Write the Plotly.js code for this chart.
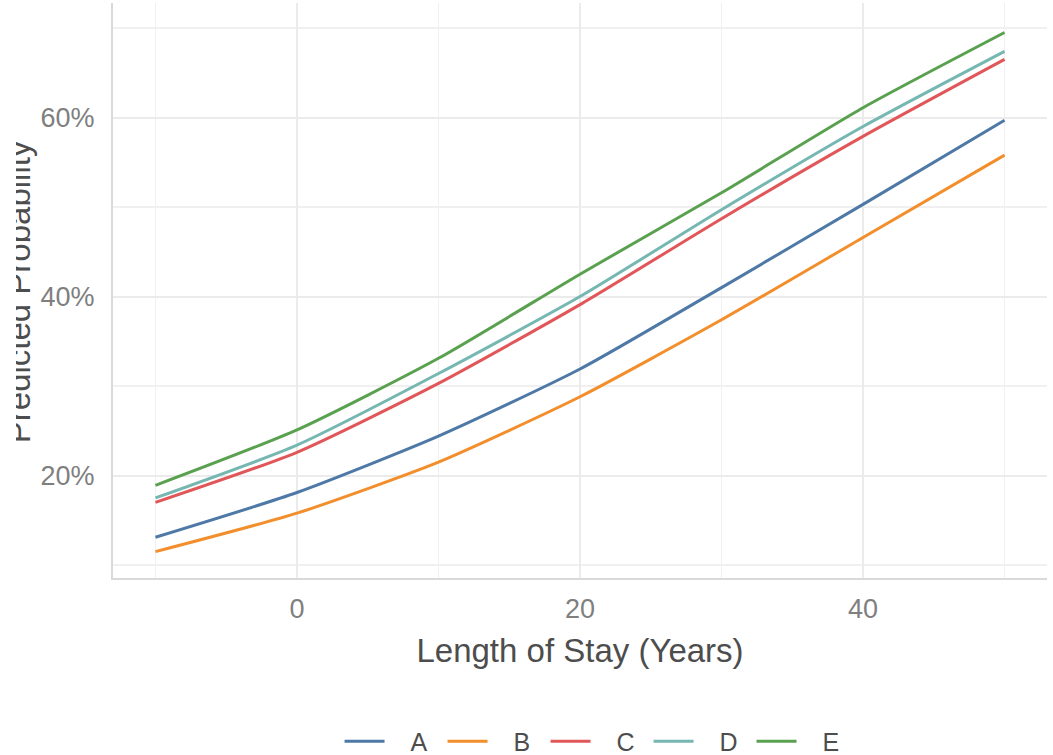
<!DOCTYPE html>
<html>
<head>
<meta charset="utf-8">
<script src="https://cdn.plot.ly/plotly-3.0.1.min.js"></script>
<style>
  html, body { margin: 0; padding: 0; background: #fff; }
  #wrap { position: relative; width: 1053px; height: 755px; }
  #chart { width: 1053px; height: 755px; }
  #clip { position: absolute; left: 0; top: 0; width: 16px; height: 755px; background: #fff; }
</style>
</head>
<body>
<div id="wrap">
  <div id="chart"></div>
  <div id="clip"></div>
</div>
<script>
const years = [-10, 0, 10, 20, 30, 40, 50];
const seriesNames = ['A', 'B', 'C', 'D', 'E'];
const valuesA = [0.131, 0.181, 0.244, 0.319, 0.410, 0.503, 0.597];
const valuesB = [0.115, 0.158, 0.215, 0.288, 0.374, 0.466, 0.558];
const valuesC = [0.170, 0.226, 0.303, 0.391, 0.487, 0.579, 0.665];
const valuesD = [0.175, 0.234, 0.314, 0.400, 0.497, 0.590, 0.674];
const valuesE = [0.189, 0.251, 0.331, 0.425, 0.516, 0.611, 0.695];
const colors = ['#4E79A7', '#F28E2B', '#E15759', '#76B7B2', '#59A14F'];
const xTickVals = [0, 20, 40];
const yTickVals = [0.2, 0.4, 0.6];

const allValues = [valuesA, valuesB, valuesC, valuesD, valuesE];
const pad = '\u00a0\u00a0\u00a0';
const traces = seriesNames.map((name, i) => ({
  type: 'scatter',
  mode: 'lines',
  name: pad + name,
  x: years,
  y: allValues[i],
  line: { color: colors[i], width: 3, shape: 'spline', smoothing: 0.6 }
}));

const font = 'Liberation Sans, Arial, sans-serif';
const layout = {
  width: 1053,
  height: 755,
  margin: { l: 113, r: 6, t: 3, b: 177, autoexpand: false },
  paper_bgcolor: '#ffffff',
  plot_bgcolor: '#ffffff',
  font: { family: font, color: '#4d4d4d' },
  showlegend: true,
  legend: {
    orientation: 'h',
    xref: 'container', yref: 'container',
    x: 0.567, xanchor: 'center',
    y: 0.018, yanchor: 'middle',
    font: { size: 25, color: '#4d4d4d', family: font },
    itemwidth: 40,
    entrywidth: 48
  },
  xaxis: {
    range: [-13, 53],
    tickvals: xTickVals,
    ticktext: xTickVals.map(String),
    ticks: '',
    tickfont: { size: 27, color: '#7f7f7f', family: font },
    ticklabelstandoff: 6,
    showgrid: true,
    gridcolor: '#ebebeb',
    gridwidth: 2,
    minor: { dtick: 10, tick0: 0, showgrid: true, gridcolor: '#f0f0f0', gridwidth: 1.5 },
    zeroline: false,
    showline: true,
    linecolor: '#d9d9d9',
    linewidth: 2,
    title: { text: 'Length of Stay (Years)', font: { size: 33, color: '#4d4d4d', family: font }, standoff: 15 }
  },
  yaxis: {
    range: [0.0855, 0.728],
    tickvals: yTickVals,
    tickformat: '.0%',
    ticks: '',
    tickfont: { size: 27, color: '#7f7f7f', family: font },
    ticklabelstandoff: 11,
    showgrid: true,
    gridcolor: '#ebebeb',
    gridwidth: 2,
    minor: { dtick: 0.1, tick0: 0, showgrid: true, gridcolor: '#f0f0f0', gridwidth: 1.5 },
    zeroline: false,
    showline: true,
    linecolor: '#d9d9d9',
    linewidth: 2
  },
  annotations: [{
    text: 'Predicted Probability',
    xref: 'paper', yref: 'paper',
    x: 0, y: 0.497,
    xanchor: 'center', yanchor: 'middle',
    xshift: -95,
    textangle: -90,
    showarrow: false,
    font: { size: 33, color: '#4d4d4d', family: font }
  }]
};

Plotly.newPlot('chart', traces, layout, { displayModeBar: false, staticPlot: true });
</script>
</body>
</html>
